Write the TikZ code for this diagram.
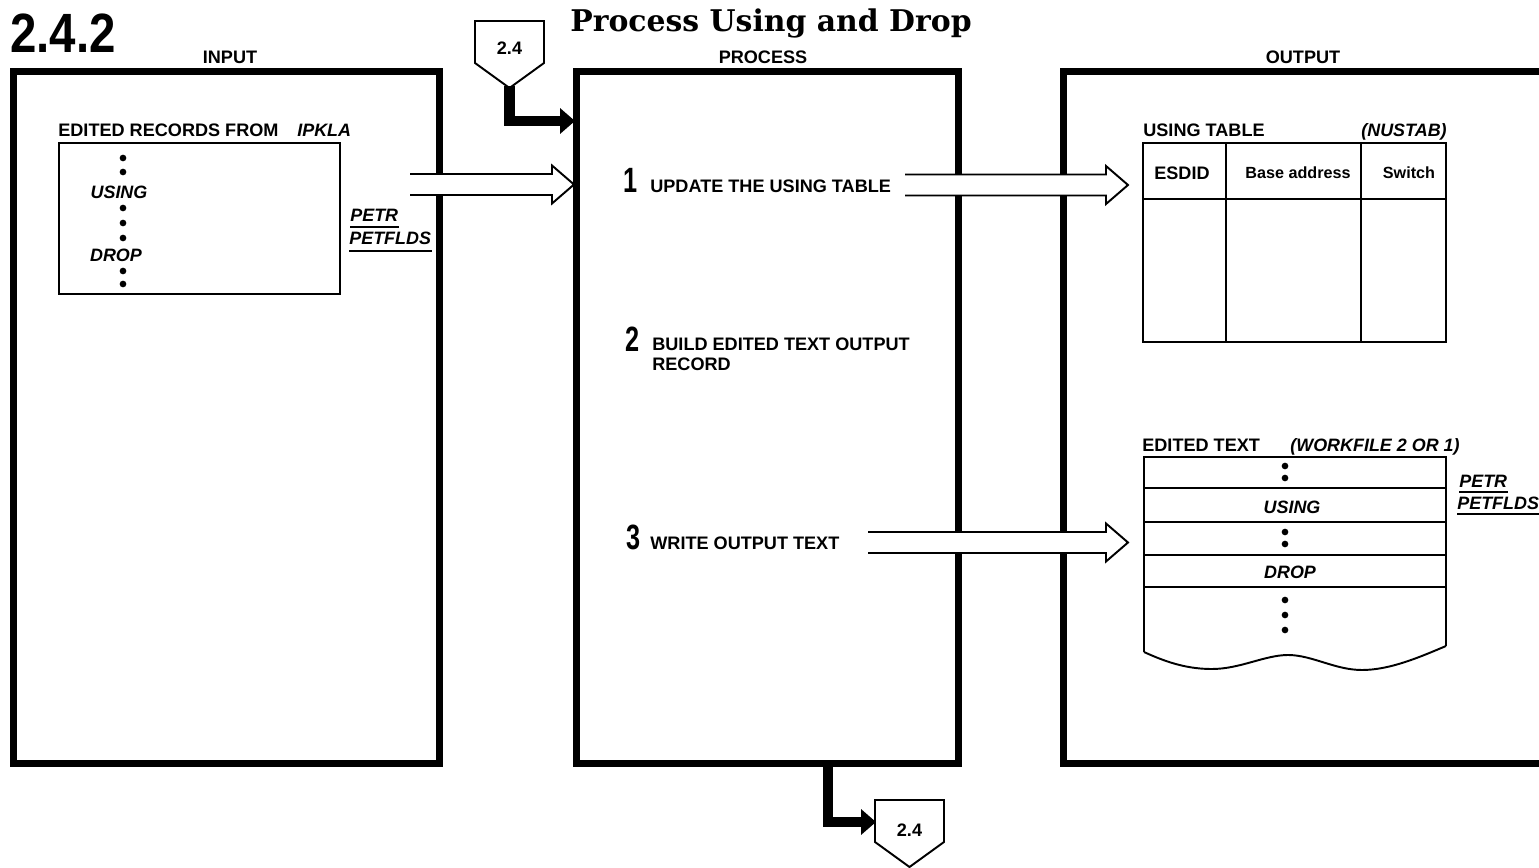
\documentclass[tikz,border=0pt]{standalone}
\usepackage{fontspec}
\usepackage{graphicx}
\setmainfont{Liberation Sans}
\newfontfamily\titlefont{DejaVu Serif}
\usetikzlibrary{calc,arrows.meta}

\tikzset{
  panel/.style={line width=4pt},
  thin/.style={line width=1.1pt},
  arrowline/.style={fill=white,line width=1.1pt,line join=miter},
  flow/.style={line width=6pt,-{Triangle[length=0.3cm,width=0.5cm]}},
  lbl/.style={inner sep=0pt,font=\bfseries\fontsize{10.3}{11.4}\selectfont},
  itl/.style={inner sep=0pt,font=\bfseries\itshape\fontsize{10.2}{12}\selectfont},
  hdr/.style={inner sep=0pt,font=\bfseries\fontsize{9.2}{11}\selectfont},
  bignum/.style={inner sep=0pt,font=\bfseries\fontsize{20}{20}\selectfont},
}

% hollow block arrow from #1 to #2
\newcommand{\hollowarrow}[2]{%
  \draw[arrowline] ($(#1)+(0,-10.5)$) -- ($(#2)+(-22,-10.5)$) -- ($(#2)+(-22,-19)$)
    -- (#2) -- ($(#2)+(-22,19)$) -- ($(#2)+(-22,10.5)$) -- ($(#1)+(0,10.5)$);}

\begin{document}
\begin{tikzpicture}[x=0.02cm,y=-0.02cm]
    \useasboundingbox (0,0) rectangle (1539,868);
    \clip (0,0) rectangle (1539,868);

    % headings
    \node[inner sep=0pt,anchor=base west] (num) at (10,53)
        {\scalebox{0.9}[1.05]{\bfseries\fontsize{30}{30}\selectfont 2.4.2}};
    \node[inner sep=0pt,anchor=base] (title) at (771,32)
        {\titlefont\bfseries\fontsize{17}{17}\selectfont Process Using and Drop};
    \node[lbl,anchor=base] (input) at (230,64) {INPUT};
    \node[lbl,anchor=base] (process) at (763,64) {PROCESS};
    \node[lbl,anchor=base] (output) at (1303,64) {OUTPUT};

    % the three panels
    \draw[panel] (13.5,71.5) rectangle (439.5,763.5);
    \draw[panel] (576.5,71.5) rectangle (958.5,763.5);
    \draw[panel] (1600,71.5) -- (1063.5,71.5) -- (1063.5,763.5) -- (1600,763.5);

    % input
    \node[lbl,anchor=base west] (recs) at (58,137) {EDITED RECORDS FROM};
    \node[itl,anchor=base west] (ipkla) at (297,137) {IPKLA};
    \draw[thin] (59,143) rectangle (340,294);
    \foreach \y in {158,172,208,223,238,271,284}
        \fill (123,\y) circle (1.9pt);
    \node[itl] (using1) at (119,192) {USING};
    \node[itl] (drop1) at (116,255) {DROP};
    \node[itl,anchor=base west] (petr1) at (350,222) {PETR};
    \node[itl,anchor=base west] (petf1) at (349,245) {PETFLDS};
    \draw[thin] (petr1.west |- 0,227) -- (petr1.east |- 0,227);
    \draw[thin] (petf1.west |- 0,251) -- (432,251);

    % process
    \node[bignum,anchor=base] (one) at (631,193) {\scalebox{0.72}[1]{1}};
    \node[lbl,anchor=base west] (step1) at (650,193) {UPDATE THE USING TABLE};
    \node[bignum,anchor=base] (two) at (633,352) {\scalebox{0.72}[1]{2}};
    \node[lbl,anchor=base west] (step2) at (652,351) {BUILD EDITED TEXT OUTPUT};
    \node[lbl,anchor=base west] (step2b) at (652,371) {RECORD};
    \node[bignum,anchor=base] (three) at (634,549) {\scalebox{0.72}[1]{3}};
    \node[lbl,anchor=base west] (step3) at (650,549) {WRITE OUTPUT TEXT};

    % output: using table
    \node[lbl,anchor=base west] (utab) at (1143,137) {USING TABLE};
    \node[itl,anchor=base east] (nustab) at (1447,137) {(NUSTAB)};
    \draw[thin] (1143,143) rectangle (1446,342);
    \draw[thin] (1143,199) -- (1446,199);
    \draw[thin] (1226,143) -- (1226,342);
    \draw[thin] (1361,143) -- (1361,342);
    \node[lbl] (esdid) at (1182,173) {ESDID};
    \node[hdr] (base) at (1298,173) {Base address};
    \node[hdr] (switch) at (1409,173) {Switch};

    % output: edited text
    \node[lbl,anchor=base west] (etext) at (1142,451) {EDITED TEXT};
    \node[itl,anchor=base east] (wfile) at (1460,451) {(WORKFILE 2 OR 1)};
    \draw[thin] (1144,652) -- (1144,457) -- (1446,457) -- (1446,646);
    \draw[thin] (1144,652) .. controls (1170,664) and (1190,669) .. (1212,669)
        .. controls (1240,669) and (1265,655) .. (1288,655)
        .. controls (1312,655) and (1335,670) .. (1362,670)
        .. controls (1390,670) and (1420,657) .. (1446,646);
    \foreach \y in {488,522,555,587}
        \draw[thin] (1144,\y) -- (1446,\y);
    \foreach \y in {466,478,532,544,600,615,630}
        \fill (1285,\y) circle (1.9pt);
    \node[itl] (using2) at (1292,507) {USING};
    \node[itl] (drop2) at (1290,572) {DROP};
    \node[itl,anchor=base west] (petr2) at (1459,487) {PETR};
    \node[itl,anchor=base west] (petf2) at (1457,509) {PETFLDS};
    \draw[thin] (petr2.west |- 0,492) -- (petr2.east |- 0,492);
    \draw[thin] (petf2.west |- 0,514) -- (1539,514);

    % hollow arrows
    \coordinate (a0) at (410,184.5);
    \coordinate (a1) at (574,184.5);
    \coordinate (b0) at (905,185);
    \coordinate (b1) at (1128,185);
    \coordinate (c0) at (868,542.5);
    \coordinate (c1) at (1128,542.5);
    \hollowarrow{a0}{a1}
    \hollowarrow{b0}{b1}
    \hollowarrow{c0}{c1}

    % off-page connectors
    \draw[thin,fill=white] (475,21) -- (544,21) -- (544,63) -- (509.5,88) -- (475,63) -- cycle;
    \node[lbl] (refin) at (509.5,48) {2.4};
    \coordinate (refin tip) at (509.5,86);
    \coordinate (procin) at (575,121);
    \draw[flow] (refin tip) |- (procin);

    \draw[thin,fill=white] (875,800) -- (944,800) -- (944,842) -- (909.5,867) -- (875,842) -- cycle;
    \node[lbl] (refout) at (909.5,830) {2.4};
    \coordinate (procout) at (828,764);
    \coordinate (refout in) at (876,822);
    \draw[flow] (procout) |- (refout in);
\end{tikzpicture}
\end{document}
